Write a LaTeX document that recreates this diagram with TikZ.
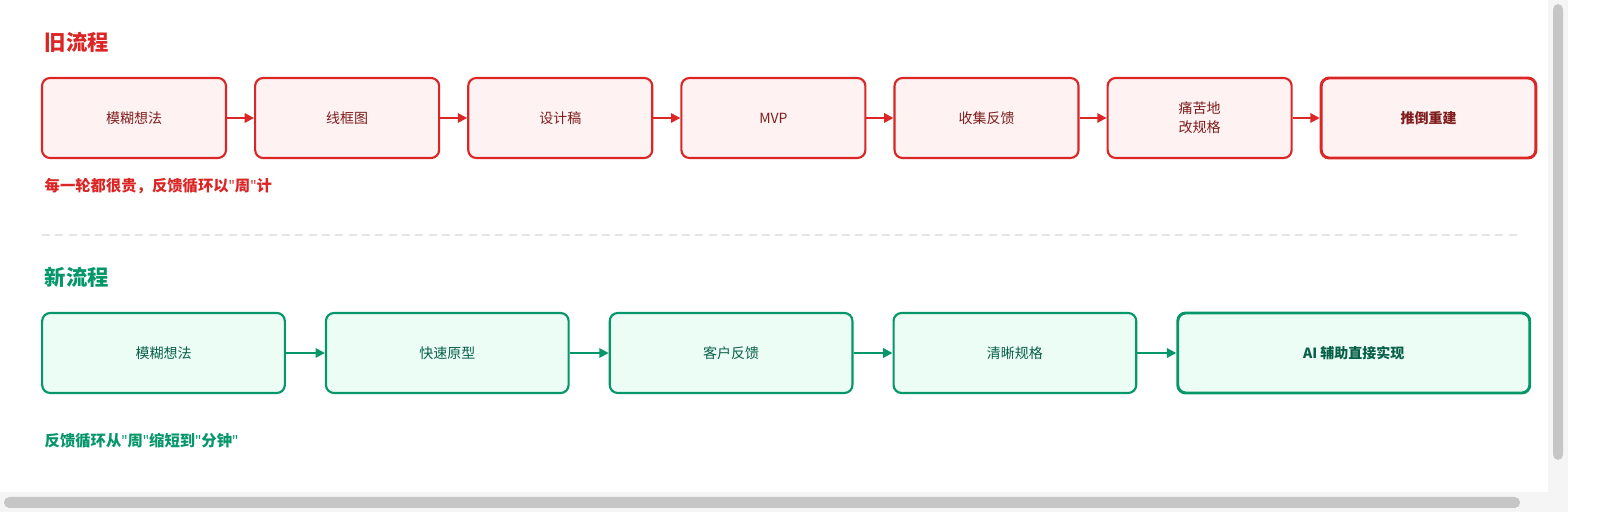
\documentclass[tikz,border=0pt]{standalone}
\usepackage{fontspec}
\setmainfont{Noto Sans CJK SC}
\newfontfamily\latinfont{Noto Sans}
\newcommand{\q}{{\latinfont\char`\"}}
\usetikzlibrary{positioning,arrows.meta}
\definecolor{oldred}{HTML}{DC2626}
\definecolor{oldfill}{HTML}{FEF2F2}
\definecolor{oldtext}{HTML}{7F1D1D}
\definecolor{newgreen}{HTML}{059669}
\definecolor{newfill}{HTML}{ECFDF5}
\definecolor{newtext}{HTML}{065F46}
\tikzset{
    % box styles
    oldbox/.style = {draw=oldred, fill=oldfill, text=oldtext, line width=1.6pt, rounded corners=6pt,
        minimum width=138pt, minimum height=60pt, align=center, font=\fontsize{10.5}{14}\selectfont},
    newbox/.style = {draw=newgreen, fill=newfill, text=newtext, line width=1.6pt, rounded corners=6pt,
        minimum width=182pt, minimum height=60pt, align=center, font=\fontsize{10.5}{14}\selectfont},
    % arrow styles
    oldarrow/.style = {draw=oldred, line width=1.5pt, -{Triangle[length=7pt,width=7pt]}},
    newarrow/.style = {draw=newgreen, line width=1.5pt, -{Triangle[length=7pt,width=7pt]}},
    heading/.style = {anchor=west, font=\fontsize{16}{18}\selectfont\bfseries},
    note/.style = {anchor=west, font=\fontsize{11.5}{14}\selectfont\bfseries}
}
\begin{document}
\begin{tikzpicture}[x=0.75pt, y=-0.75pt]
    \useasboundingbox (0,0) rectangle (1600,523);
    \fill[white] (0,0) rectangle (1600,523);
    % scrollbars
    \fill[gray!8] (0,492) rectangle (1548,512);
    \fill[gray!45, rounded corners=4pt] (4,497) rectangle (1520,508);
    \fill[gray!8] (1548,0) rectangle (1568,512);
    \fill[gray!45, rounded corners=4pt] (1553,4) rectangle (1563,460);
    % old process
    \node[heading, text=oldred] (oldtitle) at (40,42) {旧流程};
    \node[oldbox] (o1) at (134,118) {模糊想法};
    \node[oldbox, right=20.25pt of o1] (o2) {线框图};
    \node[oldbox, right=20.25pt of o2] (o3) {设计稿};
    \node[oldbox, right=20.25pt of o3] (o4) {MVP};
    \node[oldbox, right=20.25pt of o4] (o5) {收集反馈};
    \node[oldbox, right=20.25pt of o5] (o6) {痛苦地\\改规格};
    \node[oldbox, right=20.25pt of o6, minimum width=161pt, line width=2.2pt, font=\fontsize{10.5}{14}\selectfont\bfseries] (o7) {推倒重建};
    \foreach \a/\b in {o1/o2, o2/o3, o3/o4, o4/o5, o5/o6, o6/o7}
        \draw[oldarrow] (\a) -- (\b);
    \node[note, text=oldred] (oldnote) at (40,186) {每一轮都很贵，反馈循环以\q 周\q 计};
    % separator
    \coordinate (sepl) at (42,235);
    \coordinate (sepr) at (1520,235);
    \draw[gray!20, line width=1.5pt, dash pattern=on 6pt off 4pt] (sepl) -- (sepr);
    % new process
    \node[heading, text=newgreen] (newtitle) at (40,277) {新流程};
    \node[newbox] (n1) at (163.5,353) {模糊想法};
    \node[newbox, right=29.25pt of n1] (n2) {快速原型};
    \node[newbox, right=29.25pt of n2] (n3) {客户反馈};
    \node[newbox, right=29.25pt of n3] (n4) {清晰规格};
    \node[newbox, right=29.25pt of n4, minimum width=264pt, line width=2.2pt, font=\fontsize{10.5}{14}\selectfont\bfseries] (n5) {AI 辅助直接实现};
    \foreach \a/\b in {n1/n2, n2/n3, n3/n4, n4/n5}
        \draw[newarrow] (\a) -- (\b);
    \node[note, text=newgreen] (newnote) at (40,441) {反馈循环从\q 周\q 缩短到\q 分钟\q};
\end{tikzpicture}
\end{document}
